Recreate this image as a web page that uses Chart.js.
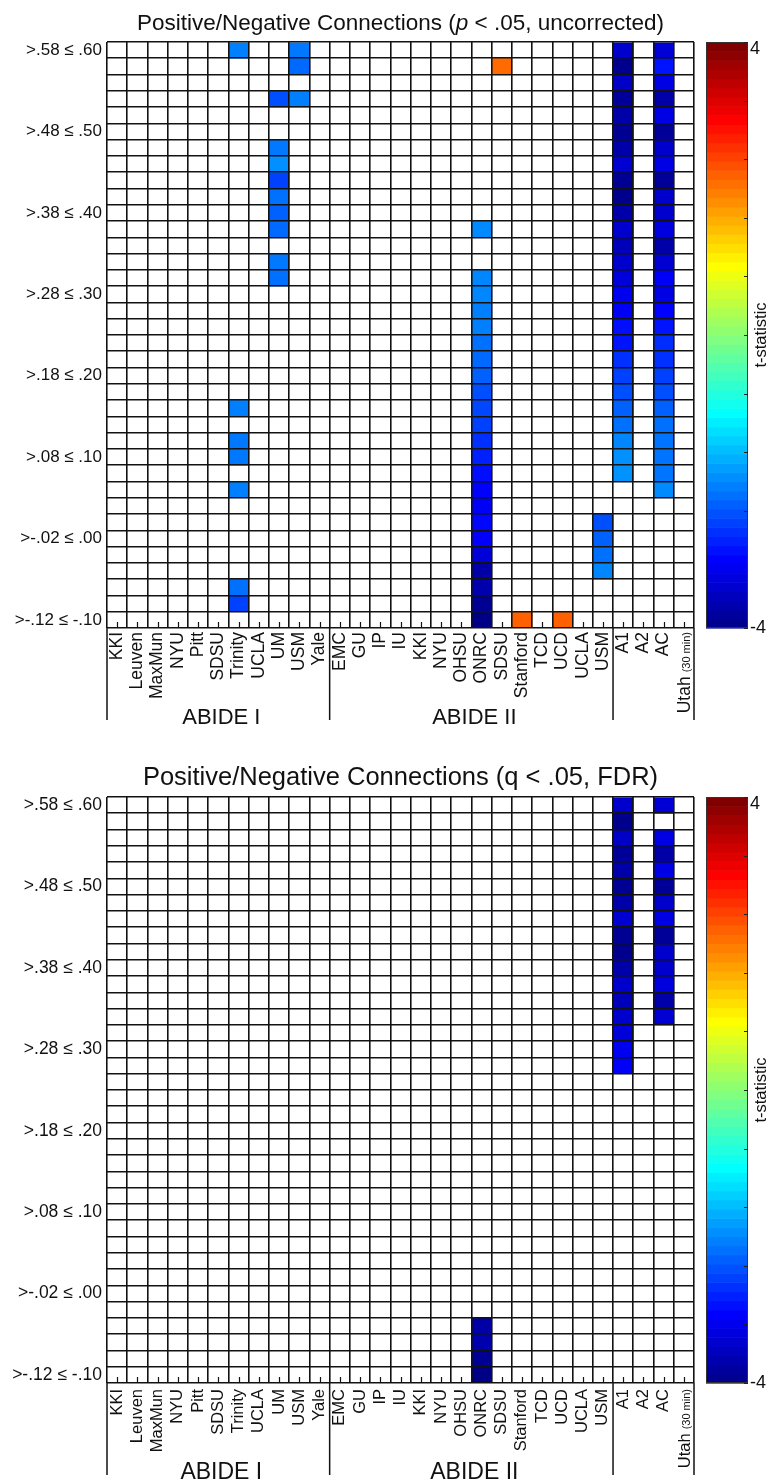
<!DOCTYPE html>
<html>
<head>
<meta charset="utf-8">
<script src="https://cdn.jsdelivr.net/npm/chart.js@4.4.0/dist/chart.umd.min.js"></script>
<style>
  html, body { margin: 0; padding: 0; background: #fff; }
  canvas { display: block; }
</style>
</head>
<body>
<canvas id="uncorrected" width="774" height="755"></canvas>
<canvas id="fdr" width="774" height="728"></canvas>
<script>
// ─── Data ───
const _ = null;
const T_MIN = -4, T_MAX = 4;
const ROWS = 36;

const sites = ['KKI', 'Leuven', 'MaxMun', 'NYU', 'Pitt', 'SDSU', 'Trinity', 'UCLA', 'UM', 'USM', 'Yale',
  'EMC', 'GU', 'IP', 'IU', 'KKI', 'NYU', 'OHSU', 'ONRC', 'SDSU', 'Stanford', 'TCD', 'UCD', 'UCLA', 'USM',
  'A1', 'A2', 'AC', 'Utah (30 min)'];
const groupNames = ['ABIDE I', 'ABIDE II', ''];
const groupEdges = [0, 11, 25, 29];

const rowLabels = ['>.58 ≤ .60', '>.48 ≤ .50', '>.38 ≤ .40', '>.28 ≤ .30', '>.18 ≤ .20', '>.08 ≤ .10', '>-.02 ≤ .00', '>-.12 ≤ -.10'];
const rowLabelIndex = [0, 5, 10, 15, 20, 25, 30, 35];

const cbTicks = [-4, -3.2, -2.4, -1.6, -0.8, 0, 0.8, 1.6, 2.4, 3.2, 4];
const cbTickLabels = ['-4', '', '', '', '', '', '', '', '', '', '4'];

// t-statistics per row (top row = >.58 ≤ .60), p < .05 uncorrected
const uncTrinity = [-2.0,_,_,_,_,_, _,_,_,_,_,_, _,_,_,_,_,_, _,_,_,_,-2.0,_, -2.06,-2.06,_,-2.0,_,_, _,_,_,-2.12,-2.5,_];
const uncUM      = [_,_,_,-2.38,_,_, -2.06,-1.87,-2.5,-2.12,-2.24,-2.18, _,-2.06,-2.12,_,_,_, _,_,_,_,_,_, _,_,_,_,_,_, _,_,_,_,_,_];
const uncUSM     = [-2.06,-2.18,_,-2.0,_,_, _,_,_,_,_,_, _,_,_,_,_,_, _,_,_,_,_,_, _,_,_,_,_,_, _,_,_,_,_,_];
const uncONRC    = [_,_,_,_,_,_, _,_,_,_,_,-1.92, _,_,-1.95,-1.95,-2.0,-2.0, -2.12,-2.18,-2.24,-2.38,-2.44,-2.5,
                    -2.62,-2.75,-2.9,-3.0,-3.06,-2.95, -3.02,-3.3,-3.7,-3.65,-3.85,-3.95];
const uncSDSU2   = [_,2.16,_,_,_,_, _,_,_,_,_,_, _,_,_,_,_,_, _,_,_,_,_,_, _,_,_,_,_,_, _,_,_,_,_,_];
const uncStanford= [_,_,_,_,_,_, _,_,_,_,_,_, _,_,_,_,_,_, _,_,_,_,_,_, _,_,_,_,_,_, _,_,_,_,_,2.24];
const uncUCD     = [_,_,_,_,_,_, _,_,_,_,_,_, _,_,_,_,_,_, _,_,_,_,_,_, _,_,_,_,_,_, _,_,_,_,_,2.24];
const uncUSM2    = [_,_,_,_,_,_, _,_,_,_,_,_, _,_,_,_,_,_, _,_,_,_,_,_, _,_,_,_,_,-2.38, -2.24,-2.12,-1.95,_,_,_];
const uncA1      = [-3.4,-3.9,-3.45,-3.8,-3.68,-3.85, -3.68,-3.36,-3.85,-3.9,-3.68,-3.4, -3.56,-3.4,-3.28,-3.12,-3.05,-2.9,
                    -2.85,-2.62,-2.5,-2.38,-2.24,-2.12, -1.94,-1.87,-1.85,_,_,_, _,_,_,_,_,_];
const uncAC      = [-3.32,-2.85,-3.2,-3.7,-3.2,-3.8, -3.4,-3.2,-3.8,-3.4,-3.4,-3.25, -3.68,-3.35,-3.05,-3.2,-3.0,-2.85,
                    -2.65,-2.62,-2.5,-2.38,-2.24,-2.12, -2.1,-2.1,-2.08,-1.92,_,_, _,_,_,_,_,_];

// q < .05, FDR
const fdrA1   = [-3.4,-3.9,-3.45,-3.8,-3.68,-3.85, -3.68,-3.36,-3.85,-3.9,-3.68,-3.4, -3.56,-3.4,-3.28,-3.12,-3.05,_,
                 _,_,_,_,_,_, _,_,_,_,_,_, _,_,_,_,_,_];
const fdrAC   = [-3.32,_,-3.2,-3.7,-3.2,-3.8, -3.4,-3.2,-3.8,-3.4,-3.4,-3.25, -3.68,-3.35,_,_,_,_,
                 _,_,_,_,_,_, _,_,_,_,_,_, _,_,_,_,_,_];
const fdrONRC = [_,_,_,_,_,_, _,_,_,_,_,_, _,_,_,_,_,_, _,_,_,_,_,_, _,_,_,_,_,_, _,_,-3.7,-3.65,-3.85,-3.95];

// column index in `sites` -> series
const uncColumns = [[6, uncTrinity], [8, uncUM], [9, uncUSM], [18, uncONRC], [19, uncSDSU2],
  [20, uncStanford], [22, uncUCD], [24, uncUSM2], [25, uncA1], [27, uncAC]];
const fdrColumns = [[25, fdrA1], [27, fdrAC], [18, fdrONRC]];

// ─── Style ───
const LINE = '#121212';
const SANS = "'Liberation Sans', Arial, Helvetica, sans-serif";
Chart.defaults.font.family = SANS;
Chart.defaults.color = '#111';

const clamp01 = v => Math.max(0, Math.min(1, v));
// MATLAB jet
const jet = v => {
  const r = clamp01(1.5 - Math.abs(4 * v - 3));
  const g = clamp01(1.5 - Math.abs(4 * v - 2));
  const b = clamp01(1.5 - Math.abs(4 * v - 1));
  return `rgb(${Math.round(r * 255)},${Math.round(g * 255)},${Math.round(b * 255)})`;
};
const tColor = t => jet((t - T_MIN) / (T_MAX - T_MIN));

// one dataset per row; each bar spans [row, row + 1] in its site column
const buildDatasets = (columns) => {
  const datasets = [];
  for (let r = 0; r < ROWS; r++) {
    const data = sites.map(() => null);
    const colors = sites.map(() => 'rgba(0,0,0,0)');
    columns.forEach(([c, vals]) => {
      if (vals[r] !== null) {
        data[c] = [r, r + 1];
        colors[c] = tColor(vals[r]);
      }
    });
    datasets.push({
      data, backgroundColor: colors, borderWidth: 0, grouped: false,
      categoryPercentage: 1, barPercentage: 1, xAxisID: 'x', yAxisID: 'y'
    });
  }
  return datasets;
};

const decor = {
  id: 'decor',
  beforeDatasetsDraw(chart) {
    // inward x ticks at column centres
    const { ctx, chartArea: a, scales: { x } } = chart;
    ctx.save();
    ctx.strokeStyle = LINE;
    ctx.lineWidth = 1.2;
    ctx.beginPath();
    sites.forEach((s, i) => {
      const px = Math.round(x.getPixelForValue(i)) + 0.5;
      ctx.moveTo(px, a.bottom);
      ctx.lineTo(px, a.bottom - 6);
    });
    ctx.stroke();
    ctx.restore();
  },
  afterDraw(chart, args, o) {
    const { ctx, chartArea: a, scales: { x, cb } } = chart;
    const colW = x.getPixelForValue(1) - x.getPixelForValue(0);
    const edge = i => x.getPixelForValue(0) + (i - 0.5) * colW;
    ctx.save();

    // title
    let total = 0;
    const parts = o.title.map(([text, italic]) => {
      ctx.font = `${italic ? 'italic ' : ''}${o.titleSize}px ${SANS}`;
      const w = ctx.measureText(text).width;
      total += w;
      return { text, font: ctx.font, w };
    });
    let tx = (a.left + a.right) / 2 - total / 2;
    ctx.fillStyle = '#111';
    ctx.textAlign = 'left';
    ctx.textBaseline = 'alphabetic';
    parts.forEach(p => { ctx.font = p.font; ctx.fillText(p.text, tx, o.titleY); tx += p.w; });

    // group separators and names
    ctx.strokeStyle = LINE;
    ctx.lineWidth = 1.5;
    ctx.beginPath();
    groupEdges.forEach(i => {
      const px = edge(i);
      ctx.moveTo(px, a.bottom);
      ctx.lineTo(px, a.bottom + 92);
    });
    ctx.stroke();
    ctx.font = `${o.groupSize}px ${SANS}`;
    ctx.textAlign = 'center';
    ctx.textBaseline = 'alphabetic';
    groupNames.forEach((name, g) => {
      if (name) ctx.fillText(name, (edge(groupEdges[g]) + edge(groupEdges[g + 1])) / 2 + 3, a.bottom + 96);
    });

    // last site label with small note
    const last = sites[sites.length - 1];
    const cut = last.indexOf(' ');
    const utahMain = last.slice(0, cut), utahNote = last.slice(cut + 1);
    ctx.save();
    ctx.translate(x.getPixelForValue(sites.length - 1) + o.xSize * 0.36, a.bottom + o.xPad);
    ctx.rotate(-Math.PI / 2);
    ctx.textAlign = 'right';
    ctx.textBaseline = 'alphabetic';
    ctx.font = `${o.noteSize}px ${SANS}`;
    const noteW = ctx.measureText(utahNote).width;
    ctx.fillText(utahNote, 0, 0);
    ctx.font = `${o.xSize}px ${SANS}`;
    ctx.fillText(utahMain, -noteW - 4, 0);
    ctx.restore();

    // colour bar
    const cx0 = a.right + 12, cx1 = a.right + 54;
    const steps = 64, dt = (T_MAX - T_MIN) / steps;
    for (let k = 0; k < steps; k++) {
      const yTop = cb.getPixelForValue(T_MIN + (k + 1) * dt);
      const yBot = cb.getPixelForValue(T_MIN + k * dt);
      ctx.fillStyle = jet((k + 1) / steps);
      ctx.fillRect(cx0, yTop, cx1 - cx0, yBot - yTop + 0.6);
    }
    const cTop = cb.getPixelForValue(T_MAX), cBot = cb.getPixelForValue(T_MIN);
    ctx.strokeStyle = '#333';
    ctx.lineWidth = 1;
    ctx.strokeRect(cx0 + 0.5, cTop + 0.5, cx1 - cx0 - 1, cBot - cTop - 1);
    ctx.strokeStyle = '#222';
    ctx.beginPath();
    cbTicks.forEach(t => {
      const py = Math.round(cb.getPixelForValue(t)) + 0.5;
      ctx.moveTo(cx1, py);
      ctx.lineTo(cx1 - 4, py);
    });
    ctx.stroke();
    ctx.fillStyle = '#111';
    ctx.font = `18px ${SANS}`;
    ctx.textAlign = 'left';
    ctx.textBaseline = 'alphabetic';
    cbTicks.forEach((t, i) => {
      if (!cbTickLabels[i]) return;
      const py = cb.getPixelForValue(t);
      ctx.fillText(cbTickLabels[i], cx1 + 2, t === T_MAX ? py + 12 : py + 5);
    });
    ctx.save();
    ctx.translate(cx1 + 13, (cTop + cBot) / 2);
    ctx.rotate(-Math.PI / 2);
    ctx.textAlign = 'center';
    ctx.textBaseline = 'middle';
    ctx.font = `16.5px ${SANS}`;
    ctx.fillText('t-statistic', 0, 0);
    ctx.restore();

    ctx.restore();
  }
};

const makePanel = (canvasId, columns, o) => {
  const canvas = document.getElementById(canvasId);
  return new Chart(canvas, {
    type: 'bar',
    data: { labels: sites, datasets: buildDatasets(columns) },
    options: {
      responsive: false,
      animation: false,
      events: [],
      layout: { padding: { top: 42, right: 80, left: 0, bottom: 0 } },
      plugins: {
        legend: { display: false },
        tooltip: { enabled: false },
        decor: o
      },
      scales: {
        x: {
          type: 'category',
          offset: true,
          grid: { offset: true, color: LINE, lineWidth: 1.6, drawTicks: false, z: 1 },
          border: { display: false },
          ticks: {
            autoSkip: false, minRotation: 90, maxRotation: 90, padding: o.xPad, color: '#111',
            font: { family: SANS, size: o.xSize },
            callback: (v, i) => (i === sites.length - 1 ? '' : sites[i])
          },
          afterFit: s => { s.height = canvas.height - 628; }
        },
        y: {
          type: 'linear', position: 'left', weight: 0,
          min: 0, max: ROWS, reverse: true,
          afterBuildTicks: s => { s.ticks = Array.from({ length: ROWS + 1 }, (d, i) => ({ value: i })); },
          ticks: { display: false },
          grid: { color: LINE, lineWidth: 1.6, drawTicks: false, z: 1 },
          border: { display: false },
          afterFit: s => { s.width = 0; }
        },
        yl: {
          type: 'linear', axis: 'y', position: 'left', weight: 1,
          min: 0, max: ROWS, reverse: true,
          afterBuildTicks: s => { s.ticks = rowLabelIndex.map(r => ({ value: r + 0.5 })); },
          grid: { display: false, drawTicks: false },
          border: { display: false },
          ticks: {
            autoSkip: false, padding: 5, color: '#111',
            font: { family: SANS, size: o.ySize },
            callback: (v, i) => rowLabels[i]
          },
          afterFit: s => { s.width = 107; }
        },
        cb: { type: 'linear', axis: 'y', position: 'right', display: false, min: T_MIN, max: T_MAX }
      }
    },
    plugins: [decor]
  });
};

makePanel('uncorrected', uncColumns, {
  title: [['Positive/Negative Connections (', false], ['p', true], [' < .05, uncorrected)', false]],
  titleSize: 22.5, titleY: 30, xSize: 17.5, noteSize: 11, xPad: 4, ySize: 17, groupSize: 22
});
makePanel('fdr', fdrColumns, {
  title: [['Positive/Negative Connections (q < .05, FDR)', false]],
  titleSize: 25.5, titleY: 30, xSize: 16.5, noteSize: 11, xPad: 6, ySize: 17.5, groupSize: 23
});
</script>
</body>
</html>
